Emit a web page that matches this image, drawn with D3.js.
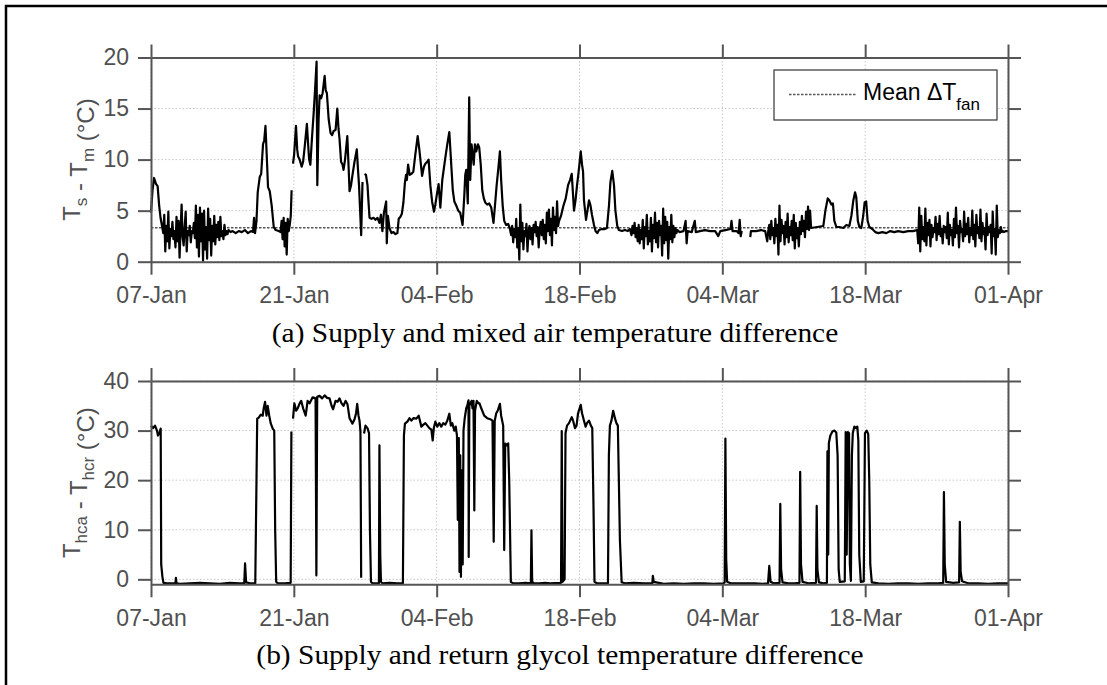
<!DOCTYPE html>
<html>
<head>
<meta charset="utf-8">
<script src="https://cdn.jsdelivr.net/npm/d3@7"></script>
<style>
  html, body { margin: 0; padding: 0; overflow: hidden; background: #fff; }
  svg { display: block; }
  svg text { font-family: "Liberation Sans", Arial, sans-serif; }
  .caption { font-family: "Liberation Serif", "Times New Roman", serif; }
  .grid { stroke: #c8c8c8; stroke-width: 1; stroke-dasharray: 1.5, 2; }
</style>
</head>
<body>
<div id="chart"></div>
<script>
// x axis: days after 07-Jan, one tick every 14 days
var dayTicks = [0, 14, 28, 42, 56, 70, 84];
var tickLabels = ["07-Jan", "21-Jan", "04-Feb", "18-Feb", "04-Mar", "18-Mar", "01-Apr"];

var airTicks = [0, 5, 10, 15, 20];
var glycolTicks = [0, 10, 20, 30, 40];

var meanFan = 3.33;

// (a) supply - mixed air temperature difference, [day, degC]; null = missing data
var airDiff = [
  [0,4.8],[0.15,7.0],[0.3,8.2],[0.5,7.6],[0.65,7.4],[0.8,5.5],[0.95,4.2],[1.1,3.4],
  [1.2,2.8],[1.3,4.6],[1.4,1.0],[1.5,3.5],[1.6,2.0],[1.7,4.9],[1.8,1.3],[1.9,3.2],[2.0,2.5],[2.1,3.9],
  [2.2,2.2],[2.3,3.0],[2.4,1.4],[2.5,4.4],[2.6,2.0],[2.7,4.0],[2.8,0.4],[2.9,3.2],[3.0,5.6],[3.1,2.4],
  [3.2,1.6],[3.3,3.4],[3.4,4.9],[3.5,1.0],[3.6,3.0],[3.7,2.6],[3.8,3.5],[3.9,1.9],[4.0,3.0],[4.1,2.8],
  [4.2,3.8],[4.3,2.3],[4.4,5.5],[4.5,1.4],[4.6,4.6],[4.7,0.5],[4.8,5.3],[4.9,2.0],[5.0,4.7],[5.1,0.1],
  [5.2,5.0],[5.3,1.2],[5.4,3.4],[5.5,0.3],[5.6,5.2],[5.7,2.1],[5.8,4.2],[5.9,0.6],[6.0,3.5],[6.1,2.0],
  [6.2,4.5],[6.3,1.7],[6.4,3.6],[6.5,2.4],[6.6,3.9],[6.7,2.1],[6.8,4.4],[6.9,2.5],[7.0,3.0],[7.1,2.2],
  [7.2,3.6],[7.3,2.6],[7.4,3.0],[7.5,2.7],[7.6,3.1],[7.8,2.9],[8.0,3.0],[8.3,2.8],[8.6,3.0],[8.9,2.9],
  [9.2,3.1],[9.5,2.8],[9.8,3.0],[10.0,2.9],[10.1,4.3],[10.2,2.8],
  [10.34,4.0],[10.46,6.8],[10.66,8.3],[10.8,8.6],[10.98,11.5],[11.1,11.9],[11.22,13.3],[11.34,10.5],
  [11.47,7.3],[11.64,6.9],[11.83,5.5],[12.03,3.4],[12.22,3.1],[12.52,3.0],[12.7,2.9],
  [12.8,4.0],[12.9,2.2],[13.0,4.3],[13.1,1.5],[13.2,3.8],[13.3,0.7],[13.4,4.2],[13.5,3.0],[13.6,3.6],
  [13.7,4.5],[13.78,7.0],[13.85,null],
  [13.92,9.6],[14.03,10.5],[14.21,13.3],[14.33,11.0],[14.42,10.3],[14.57,10.0],[14.77,9.3],[14.91,9.8],
  [15.06,11.2],[15.28,13.5],[15.4,11.5],[15.5,10.0],[15.62,9.5],[15.77,12.0],[15.94,14.5],[16.09,17.0],
  [16.23,19.6],[16.3,7.5],[16.43,14.0],[16.53,16.3],[16.67,16.0],[16.82,16.5],[17.02,18.2],[17.12,16.8],
  [17.24,16.5],[17.41,14.0],[17.6,12.6],[17.75,12.4],[17.9,12.8],[18.09,12.9],[18.26,15.0],[18.38,13.0],
  [18.48,12.0],[18.63,9.8],[18.78,9.5],[18.87,9.0],[19.02,10.0],[19.24,12.3],[19.36,9.5],[19.46,6.9],
  [19.61,7.5],[19.75,8.5],[19.95,9.8],[20.17,11.0],[20.29,9.0],[20.39,7.5],[20.6,2.6],[20.73,7.8],
  [20.8,null],
  [20.93,8.6],[21.07,8.5],[21.22,7.5],[21.31,6.0],[21.42,4.3],[21.61,4.2],[21.81,4.3],[22.0,4.1],
  [22.2,4.3],[22.39,3.8],[22.54,4.6],[22.68,3.0],[22.83,4.8],[23.05,5.9],[23.11,1.8],[23.22,4.5],
  [23.37,3.3],[23.57,2.8],[23.76,2.9],[23.96,2.7],[24.15,2.8],[24.28,4.2],[24.45,4.4],[24.59,4.7],
  [24.74,5.8],[24.89,7.8],[25.0,8.5],[25.08,8.0],[25.2,9.5],[25.36,8.5],[25.52,8.6],[25.71,8.8],
  [25.91,10.5],[26.14,12.3],[26.3,11.0],[26.57,8.4],[26.75,9.3],[26.89,9.6],[27.09,9.8],[27.21,10.0],
  [27.38,7.5],[27.55,5.9],[27.74,4.9],[27.87,5.6],[28.02,6.6],[28.19,7.6],[28.36,5.3],[28.55,8.0],
  [28.85,10.2],[29.04,11.5],[29.24,12.7],[29.43,9.5],[29.58,7.0],[29.73,5.9],[29.92,5.5],[30.12,5.0],
  [30.31,4.8],[30.54,3.6],[30.71,6.5],[30.8,8.5],[30.9,9.0],[31.05,5.7],[31.19,16.1],[31.29,8.0],
  [31.42,11.5],[31.53,10.5],[31.63,9.5],[31.75,11.5],[31.88,10.8],[32.05,11.5],[32.17,11.2],[32.32,9.5],
  [32.47,7.0],[32.62,6.2],[32.76,5.8],[32.96,5.6],[33.15,5.7],[33.35,5.3],[33.57,3.8],[33.74,5.8],
  [33.88,7.5],[34.03,9.0],[34.2,10.8],[34.32,8.0],[34.47,5.5],[34.62,4.0],[34.81,3.6],[35.01,3.7],
  [35.16,3.3],
  [35.3,2.6],[35.4,3.5],[35.5,1.9],[35.6,3.2],[35.7,2.4],[35.8,4.2],[35.9,1.4],[36.0,3.3],[36.1,0.2],
  [36.2,5.6],[36.3,2.0],[36.4,3.8],[36.5,1.2],[36.6,3.0],[36.7,2.5],[36.8,3.7],[36.9,1.0],[37.0,2.9],
  [37.1,3.5],[37.2,2.2],[37.3,3.3],[37.4,1.7],[37.5,3.6],[37.6,2.9],[37.7,3.9],[37.8,2.5],[37.9,3.4],
  [38.0,1.4],[38.1,3.2],[38.2,3.9],[38.3,2.6],[38.4,4.1],[38.5,2.2],[38.6,3.6],[38.7,1.8],[38.8,4.8],
  [38.9,3.0],[39.0,5.1],[39.1,2.6],[39.2,4.2],[39.3,1.6],[39.4,5.3],[39.5,3.1],[39.6,4.4],[39.7,2.8],
  [39.8,5.9],[39.9,3.5],[40.0,4.0],
  [40.19,4.5],[40.43,5.5],[40.65,6.2],[40.88,7.5],[41.07,8.0],[41.24,8.6],[41.37,6.5],[41.46,5.0],
  [41.61,6.0],[41.76,7.5],[41.88,8.5],[42.0,9.6],[42.12,10.8],[42.25,9.5],[42.35,8.8],[42.44,6.0],
  [42.64,4.1],[42.78,5.0],[42.93,6.0],[43.08,5.5],[43.22,4.6],[43.42,3.6],[43.57,3.0],[43.74,2.8],
  [43.91,3.1],[44.2,3.2],[44.49,3.2],[44.69,3.3],[44.89,5.5],[45.03,7.8],[45.21,8.9],[45.38,7.5],
  [45.52,5.0],[45.7,3.5],[45.86,3.1],[46.16,3.0],[46.45,3.1],[46.74,3.0],[46.94,3.2],
  [47.1,2.6],[47.2,3.5],[47.3,2.8],[47.4,3.8],[47.5,2.4],[47.6,3.3],[47.7,2.0],[47.8,3.6],[47.9,1.8],
  [48.0,3.1],[48.1,2.2],[48.2,4.1],[48.3,1.3],[48.4,3.4],[48.5,2.5],[48.6,4.6],[48.7,1.7],[48.8,3.0],
  [48.9,2.0],[49.0,4.3],[49.1,1.0],[49.2,3.6],[49.3,2.3],[49.4,4.8],[49.5,1.9],[49.6,3.8],[49.7,1.4],
  [49.8,4.0],[49.9,2.6],[50.0,3.5],[50.1,0.6],[50.2,5.2],[50.3,1.8],[50.4,4.4],[50.5,2.1],[50.6,3.9],
  [50.7,0.3],[50.8,3.4],[50.9,2.2],[51.0,4.6],[51.1,1.9],[51.2,3.5],[51.3,2.4],[51.4,3.3],[51.5,2.8],
  [51.6,3.1],
  [51.8,2.9],[52.2,3.0],[52.4,4.0],[52.5,1.8],[52.6,3.0],[53.0,2.9],[53.3,4.0],[53.4,2.9],[53.8,3.0],
  [54.3,3.1],[54.8,3.0],[55.3,3.0],[55.6,2.5],[55.8,3.0],[56.3,3.1],[56.8,3.2],[56.9,4.0],[57.0,3.0],
  [57.4,3.0],[57.6,2.8],[57.7,4.1],[57.8,2.5],[57.9,3.0],[58.0,null],
  [58.74,2.4],[58.8,3.0],[59.3,3.0],[59.8,3.1],[60.2,3.0],[60.4,2.0],[60.5,3.0],
  [60.6,3.6],[60.7,2.2],[60.8,4.0],[60.9,2.6],[61.0,3.3],[61.1,1.8],[61.2,4.2],[61.3,2.5],[61.4,3.6],
  [61.5,0.7],[61.6,5.5],[61.7,2.0],[61.8,4.1],[61.9,2.8],[62.0,3.5],[62.1,1.7],[62.2,3.9],[62.3,2.4],
  [62.4,4.7],[62.5,1.9],[62.6,3.4],[62.7,2.6],[62.8,4.0],[62.9,2.1],[63.0,4.6],[63.1,1.3],[63.2,3.8],
  [63.3,2.3],[63.4,3.3],[63.5,1.5],[63.6,3.9],[63.7,2.7],[63.8,4.5],[63.9,3.0],[64.0,4.0],[64.1,2.4],
  [64.2,4.9],[64.3,3.2],[64.4,5.4],[64.5,3.1],[64.6,5.0],[64.7,3.3],
  [65.9,3.5],[66.1,5.0],[66.33,6.2],[66.5,6.0],[66.69,5.6],[66.84,5.7],[66.98,4.0],[67.18,3.4],
  [67.47,3.4],[67.86,3.3],[68.16,3.6],[68.45,3.5],[68.65,4.5],[68.84,6.0],[69.01,6.8],[69.13,6.3],
  [69.28,4.0],[69.43,3.4],[69.62,3.3],[69.81,4.5],[69.95,5.8],[70.1,5.9],[70.24,4.0],[70.41,3.4],
  [70.7,3.2],[70.99,2.9],[71.29,2.8],[71.68,2.9],[72.07,2.8],[72.46,3.0],[72.85,2.9],[73.24,3.0],
  [73.73,2.9],[74.22,3.0],[74.71,3.0],[75.1,3.1],
  [75.2,1.8],[75.3,5.3],[75.4,1.0],[75.5,4.5],[75.6,2.2],[75.7,3.4],[75.8,2.0],[75.9,5.2],[76.0,1.6],
  [76.1,3.8],[76.2,2.6],[76.3,4.1],[76.4,1.5],[76.5,3.6],[76.6,2.4],[76.7,3.3],[76.8,2.9],[76.9,4.4],
  [77.0,2.1],[77.1,3.7],[77.2,2.7],[77.3,4.5],[77.4,2.5],[77.5,3.2],[77.6,1.8],[77.7,3.5],[77.8,2.9],
  [77.9,3.4],[78.0,2.3],[78.1,4.8],[78.2,1.7],[78.3,3.6],[78.4,2.6],[78.5,3.1],[78.6,1.6],[78.7,4.2],
  [78.8,2.4],[78.9,5.3],[79.0,2.8],[79.1,3.5],[79.2,1.4],[79.3,4.0],[79.4,2.9],[79.5,3.2],[79.6,2.0],
  [79.7,4.9],[79.8,2.5],[79.9,3.7],[80.0,2.7],[80.1,4.3],[80.2,1.9],[80.3,3.3],[80.4,2.6],[80.5,5.0],
  [80.6,2.2],[80.7,3.6],[80.8,1.5],[80.9,4.6],[81.0,2.8],[81.1,3.4],[81.2,2.3],[81.3,5.1],[81.4,2.0],
  [81.5,3.8],[81.6,2.7],[81.7,3.3],[81.8,1.2],[81.9,4.7],[82.0,2.6],[82.1,3.4],[82.2,2.9],[82.3,3.6],
  [82.4,0.8],[82.5,4.9],[82.6,2.5],[82.7,3.2],[82.8,0.7],[82.9,5.5],[83.0,2.4],[83.1,3.1],[83.2,2.8],
  [83.3,3.4],[83.4,2.9],[83.5,3.0],[83.6,2.9],[83.8,3.0],[84.0,3.0]
];

// (b) supply - return glycol temperature difference, [day, degC]
var glycolDiff = [
  [0,31.0],[0.2,30.5],[0.39,31.0],[0.59,30.0],[0.68,29.0],[0.83,29.5],[0.95,30.4],[1.0,3.0],[1.12,0.5],
  [1.22,-0.7],[1.56,-0.8],[2.05,-0.8],[2.4,-0.8],[2.44,0.3],[2.51,-0.8],[2.84,-0.9],[3.81,-0.8],
  [4.79,-0.7],[5.77,-0.8],[6.75,-0.9],[7.73,-0.7],[8.7,-0.8],[9.14,-0.8],[9.22,3.2],[9.32,-0.6],
  [9.68,-0.8],[10.22,-0.8],[10.34,20],[10.41,32.4],[10.56,32.6],[10.76,33.2],[10.95,33.0],[11.05,34.5],
  [11.18,35.8],[11.32,33.0],[11.44,35.0],[11.59,33.0],[11.73,31.5],[11.93,30.4],[12.08,30.0],[12.17,10],
  [12.27,-0.5],[12.42,-0.8],[13.1,-0.8],[13.69,-0.7],[13.76,29.8],[13.85,null],
  [13.92,32.4],[14.05,35.5],[14.23,34.0],[14.38,34.5],[14.57,35.5],[14.72,36.0],[14.91,34.5],[15.16,33.0],
  [15.35,36.0],[15.55,35.5],[15.84,36.7],[16.13,36.5],[16.21,0.8],[16.29,36.8],[16.53,37.0],[16.77,36.5],
  [17.02,37.1],[17.26,36.6],[17.5,36.5],[17.7,35.0],[17.85,34.3],[18.09,36.0],[18.29,35.8],[18.48,36.5],
  [18.68,35.5],[18.87,35.0],[19.07,36.0],[19.26,35.3],[19.46,32.5],[19.75,31.4],[19.95,32.3],[20.1,33.5],
  [20.21,35.4],[20.34,33.0],[20.44,32.0],[20.53,29.8],[20.6,0.3],[20.75,null],
  [20.88,29.4],[21.02,31.0],[21.22,30.5],[21.37,29.5],[21.46,10],[21.56,-0.5],[21.71,-0.8],[22.34,-0.8],
  [22.39,27.0],[22.47,5],[22.54,-0.5],[22.69,-0.8],[23.37,-0.7],[24.15,-0.8],[24.69,-0.8],
  [24.79,29.0],[24.89,31.4],[25.13,31.8],[25.33,32.5],[25.52,32.0],[25.72,32.5],[26.01,32.4],[26.24,33.0],
  [26.36,32.0],[26.5,30.8],[26.7,31.2],[26.89,31.5],[27.09,31.0],[27.28,30.5],[27.48,30.2],[27.61,28.0],
  [27.72,30.5],[27.87,31.8],[28.06,30.8],[28.26,31.5],[28.45,30.8],[28.65,31.5],[28.85,31.2],[29.04,32.0],
  [29.24,33.4],[29.39,31.0],[29.53,31.5],[29.73,30.0],[29.87,30.8],[29.99,29.0],[30.07,12],[30.17,28.5],
  [30.24,1.5],[30.31,25],[30.38,0.5],[30.45,22],[30.55,3],[30.63,30],[30.75,32.5],[30.9,34.5],[31.0,35.0],
  [31.12,36.1],[31.14,4.5],[31.2,35.0],[31.42,36.0],[31.51,34.5],[31.61,36.0],[31.69,13.9],[31.76,34.0],
  [31.93,36.0],[32.1,35.5],[32.2,35.5],[32.37,34.5],[32.66,33.0],[32.95,32.5],[33.25,32.3],[33.47,32.0],
  [33.59,7.6],[33.69,32.0],[33.84,33.5],[33.98,34.0],[34.2,35.4],[34.32,33.0],[34.52,31.0],[34.62,5.9],
  [34.72,27.4],[34.86,27.0],[35.01,27.4],[35.11,20],[35.27,-0.5],[35.5,-0.8],[36.08,-0.8],[36.67,-0.7],
  [37.23,-0.8],[37.29,9.9],[37.36,-0.3],[37.45,-0.8],[38.04,-0.8],[38.63,-0.7],[39.12,-0.8],[40.19,-0.7],
  [40.26,29.9],[40.34,-0.5],[40.54,0],[40.63,29.5],[40.78,31.0],[40.97,31.5],[41.24,32.7],[41.37,32.0],
  [41.56,30.5],[41.71,31.0],[41.86,33.5],[42.12,35.2],[42.25,33.5],[42.44,32.0],[42.6,30.8],[42.73,31.5],
  [42.93,32.0],[43.12,31.0],[43.25,30.5],[43.37,15],[43.47,-0.5],[43.71,-0.8],[44.3,-0.8],[44.79,-0.8],
  [44.88,25],[44.98,31.0],[45.13,32.0],[45.3,34.0],[45.47,32.5],[45.62,31.5],[45.76,31.0],[45.86,19.6],
  [45.96,8],[46.13,-0.6],[46.45,-0.8],[47.33,-0.7],[48.31,-0.8],[49.14,-0.8],[49.19,0.7],[49.28,-0.5],
  [50.26,-0.9],[51.24,-0.8],[52.22,-0.9],[53.2,-0.8],[54.17,-0.8],[55.15,-0.9],[56.13,-0.8],[56.23,-0.6],
  [56.3,28.4],[56.38,4],[56.47,-0.5],[56.81,-0.8],[57.6,-0.8],[58.38,-0.8],[59.17,-0.8],[59.95,-0.9],
  [60.48,-0.8],[60.6,2.7],[60.73,-0.5],[61.02,-0.8],[61.61,-0.7],[61.68,15.2],[61.76,2],[61.9,-0.6],
  [62.49,-0.8],[63.07,-0.8],[63.56,-0.7],[63.63,21.7],[63.71,3],[63.86,-0.5],[64.44,-0.8],[65.18,-0.7],
  [65.25,14.8],[65.32,2],[65.47,-0.6],[65.91,-0.8],[66.25,-0.7],[66.3,25.8],[66.38,5],[66.44,27.5],
  [66.59,29.0],[66.79,29.8],[66.98,30.0],[67.17,29.6],[67.3,25],[67.4,2],[67.51,-0.5],[68.0,-0.4],
  [68.09,29.7],[68.19,5],[68.3,29.7],[68.42,29.5],[68.5,3],[68.6,-0.3],[68.7,25],[68.79,29.5],[68.94,30.8],
  [69.08,30.5],[69.23,30.8],[69.33,28],[69.42,5],[69.57,-0.5],[69.86,-0.4],[69.98,29.5],[70.15,30.0],
  [70.3,29.3],[70.4,20],[70.5,3],[70.65,-0.6],[71.29,-0.8],[72.27,-0.9],[73.24,-0.8],[74.22,-0.8],
  [75.2,-0.9],[76.18,-0.8],[77.16,-0.8],[77.65,-0.7],[77.72,17.6],[77.8,3],[77.94,-0.5],[78.62,-0.7],
  [79.21,-0.6],[79.28,11.6],[79.36,1.5],[79.5,-0.4],[80.09,-0.8],[81.07,-0.8],[82.05,-0.9],[83.02,-0.8],
  [83.8,-0.8],[84,-0.8]
];

var svgWidth = 1107;
var svgHeight = 685;
var plotLeft = 151;
var plotWidth = 1008 - plotLeft;
var axisColor = "#555";
var textColor = "#505050";

var svg = d3.select("#chart")
  .append("svg")
  .attr("width", svgWidth)
  .attr("height", svgHeight);

// figure frame: only the top and left edges are inside the picture
svg.append("path")
  .attr("d", "M6,685 L6,6 L1107,6")
  .attr("fill", "none")
  .attr("stroke", "#000")
  .attr("stroke-width", 2.5);

var xScale = d3.scaleLinear().domain([0, 84]).range([0, plotWidth]);

function styleAxis(sel) {
  sel.attr("font-size", 23)
    .attr("font-family", "Liberation Sans, Arial, sans-serif");
  sel.select(".domain").attr("stroke", axisColor).attr("stroke-width", 2);
  sel.selectAll(".tick line").attr("stroke", axisColor).attr("stroke-width", 2);
  sel.selectAll(".tick text").attr("fill", textColor);
}

function drawPanel(opts) {
  var h = opts.bottom - opts.top;
  var yScale = d3.scaleLinear().domain(opts.yDomain).range([h, 0]);
  var g = svg.append("g").attr("transform", `translate(${plotLeft}, ${opts.top})`);

  // grid lines
  g.append("g").selectAll("line")
    .data(opts.yTicks)
    .enter()
    .append("line")
    .attr("class", "grid")
    .attr("x1", 0).attr("x2", plotWidth)
    .attr("y1", d => yScale(d)).attr("y2", d => yScale(d));

  g.append("g").selectAll("line")
    .data(dayTicks)
    .enter()
    .append("line")
    .attr("class", "grid")
    .attr("x1", d => xScale(d)).attr("x2", d => xScale(d))
    .attr("y1", 0).attr("y2", h);

  if (opts.mean !== undefined) {
    g.append("line")
      .attr("x1", 0).attr("x2", plotWidth)
      .attr("y1", yScale(opts.mean)).attr("y2", yScale(opts.mean))
      .attr("stroke", "#555")
      .attr("stroke-width", 1.6)
      .attr("stroke-dasharray", "2.5,1.5");
  }

  var line = d3.line()
    .defined(d => d[1] !== null)
    .x(d => xScale(d[0]))
    .y(d => yScale(d[1]));

  g.append("path")
    .datum(opts.data)
    .attr("d", line)
    .attr("fill", "none")
    .attr("stroke", "#000")
    .attr("stroke-width", 2.2)
    .attr("stroke-linejoin", "round");

  // box with outward ticks on all four sides
  var bottomAxis = d3.axisBottom(xScale)
    .tickValues(dayTicks)
    .tickFormat((d, i) => tickLabels[i])
    .tickSizeInner(13).tickSizeOuter(0).tickPadding(12);
  var topAxis = d3.axisTop(xScale)
    .tickValues(dayTicks).tickFormat("")
    .tickSizeInner(13).tickSizeOuter(0);
  var leftAxis = d3.axisLeft(yScale)
    .tickValues(opts.yTicks)
    .tickSizeInner(13).tickSizeOuter(0).tickPadding(9);
  var rightAxis = d3.axisRight(yScale)
    .tickValues(opts.yTicks).tickFormat("")
    .tickSizeInner(13).tickSizeOuter(0);

  g.append("g").attr("transform", `translate(0, ${h})`).call(bottomAxis).call(styleAxis);
  g.append("g").call(topAxis).call(styleAxis);
  g.append("g").call(leftAxis).call(styleAxis);
  g.append("g").attr("transform", `translate(${plotWidth}, 0)`).call(rightAxis).call(styleAxis);

  // rotated y label with subscripts
  var label = svg.append("text")
    .attr("transform", `translate(80, ${(opts.top + opts.bottom) / 2}) rotate(-90)`)
    .attr("text-anchor", "middle")
    .attr("font-size", 24)
    .attr("fill", textColor);
  opts.label.forEach(function(part) {
    if (part.sub) {
      label.append("tspan").attr("font-size", 17).attr("dy", 7).text(part.sub);
      label.append("tspan").attr("dy", -7).text("");
    } else {
      label.append("tspan").text(part.text);
    }
  });

  svg.append("text")
    .attr("class", "caption")
    .attr("transform", `translate(${opts.captionX}, ${opts.captionY}) scale(1.09, 1)`)
    .attr("text-anchor", "middle")
    .attr("font-size", 27)
    .attr("fill", "#000")
    .text(opts.caption);
}

drawPanel({
  top: 57.5, bottom: 261.7,
  yDomain: [0, 20], yTicks: airTicks,
  data: airDiff, mean: meanFan,
  label: [{text: "T"}, {sub: "s"}, {text: " - T"}, {sub: "m"}, {text: " (°C)"}],
  caption: "(a) Supply and mixed air temperature difference",
  captionX: 555, captionY: 342
});

drawPanel({
  top: 381, bottom: 584.3,
  yDomain: [-1, 40], yTicks: glycolTicks,
  data: glycolDiff,
  label: [{text: "T"}, {sub: "hca"}, {text: " - T"}, {sub: "hcr"}, {text: " (°C)"}],
  caption: "(b) Supply and return glycol temperature difference",
  captionX: 560, captionY: 664
});

// legend
var legend = svg.append("g").attr("transform", "translate(774, 70)");
legend.append("rect")
  .attr("width", 223).attr("height", 50)
  .attr("fill", "#fff")
  .attr("stroke", "#333")
  .attr("stroke-width", 1.2);
legend.append("line")
  .attr("x1", 15).attr("x2", 82)
  .attr("y1", 24.5).attr("y2", 24.5)
  .attr("stroke", "#555")
  .attr("stroke-width", 1.6)
  .attr("stroke-dasharray", "2.5,1.5");
var legendText = legend.append("text")
  .attr("x", 89).attr("y", 29.5)
  .attr("font-size", 23)
  .attr("fill", "#000");
legendText.append("tspan").text("Mean \u0394T");
legendText.append("tspan").attr("font-size", 17).attr("dy", 10).text("fan");
</script>
</body>
</html>
